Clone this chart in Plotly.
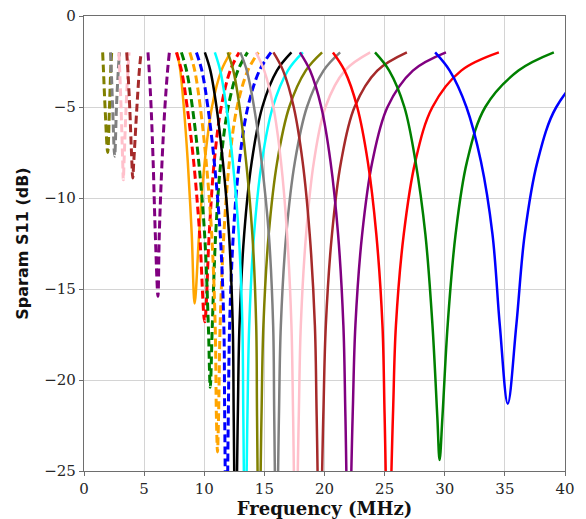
import plotly.graph_objects as go

LEVELS_DB = [-2, -3, -5, -8, -12, -17, -22]

# ---- dashed family (left frequencies, right frequencies, centre MHz, minimum dB)
OLIVE_D_L = [1.55, 1.62, 1.75]
OLIVE_D_R = [2.30, 2.22, 2.12]
OLIVE_D_MIN = [1.97, -7.5]

GREY_D_L = [2.20, 2.27, 2.38]
GREY_D_R = [2.95, 2.85, 2.70]
GREY_D_MIN = [2.55, -7.7]

PINK_D_L = [2.90, 2.97, 3.08, 3.22]
PINK_D_R = [3.75, 3.65, 3.50, 3.33]
PINK_D_MIN = [3.27, -9.0]

BROWN_D_L = [3.55, 3.65, 3.80, 3.98]
BROWN_D_R = [4.75, 4.60, 4.40, 4.14]
BROWN_D_MIN = [4.05, -8.9]

PURPLE_D_L = [5.32, 5.42, 5.58, 5.75, 5.93]
PURPLE_D_R = [7.10, 6.95, 6.73, 6.49, 6.26]
PURPLE_D_MIN = [6.15, -15.4]

RED_D_L = [7.68, 8.11, 8.58, 9.12, 9.62]
RED_D_R = [12.90, 12.16, 11.41, 10.83, 10.41]
RED_D_MIN = [10.04, -16.8]

GREEN_D_L = [8.10, 8.53, 9.01, 9.54, 10.03, 10.34]
GREEN_D_R = [13.60, 12.79, 11.99, 11.38, 10.95, 10.67]
GREEN_D_MIN = [10.5, -20.4]

ORANGE_D_L = [8.80, 9.21, 9.67, 10.16, 10.62, 10.91, 11.01]
ORANGE_D_R = [14.50, 13.62, 12.73, 12.09, 11.63, 11.32, 11.19]
ORANGE_D_MIN = [11.1, -23.95]

BLUE_D_L = [9.35, 9.80, 10.30, 10.83, 11.33, 11.63, 11.70]
BLUE_D_R = [15.55, 14.59, 13.63, 12.92, 12.42, 12.11, 12.00]
BLUE_D_MIN = [11.85, -30.0]

# ---- solid family
ORANGE_L = [7.75, 8.01, 8.30, 8.63, 8.96]
ORANGE_R = [12.20, 11.42, 10.64, 10.04, 9.57]
ORANGE_MIN = [9.2, -15.8]

BLACK_L = [10.05, 10.51, 11.02, 11.55, 12.06, 12.37, 12.45]
BLACK_R = [17.25, 16.04, 14.83, 13.95, 13.32, 12.93, 12.79]
BLACK_MIN = [12.6, -30.0]

CYAN_L = [10.88, 11.33, 11.84, 12.37, 12.87, 13.17, 13.25]
CYAN_R = [18.20, 16.95, 15.70, 14.79, 14.14, 13.74, 13.59]
CYAN_MIN = [13.4, -30.0]

OLIVE_L = [11.95, 12.42, 12.94, 13.48, 14.00, 14.32, 14.39]
OLIVE_R = [19.80, 18.44, 17.07, 16.07, 15.36, 14.92, 14.76]
OLIVE_MIN = [14.55, -30.0]

GREY_L = [13.00, 13.54, 14.14, 14.77, 15.37, 15.73, 15.82]
GREY_R = [21.30, 19.92, 18.54, 17.54, 16.82, 16.37, 16.21]
GREY_MIN = [16.0, -30.0]

PINK_L = [14.30, 14.99, 15.75, 16.38, 16.89, 17.25, 17.39]
PINK_R = [23.80, 21.69, 20.08, 19.12, 18.47, 18.03, 17.86]
PINK_MIN = [17.6, -30.0]

BROWN_L = [15.75, 16.56, 17.44, 18.18, 18.77, 19.20, 19.35]
BROWN_R = [26.85, 24.39, 22.50, 21.38, 20.62, 20.11, 19.90]
BROWN_MIN = [19.6, -30.0]

PURPLE_L = [17.95, 18.80, 19.73, 20.50, 21.13, 21.57, 21.74]
PURPLE_R = [30.10, 27.35, 25.24, 23.98, 23.13, 22.57, 22.34]
PURPLE_MIN = [22.0, -30.0]

RED_L = [20.70, 21.67, 22.72, 23.60, 24.31, 24.82, 25.00]
RED_R = [34.50, 31.37, 28.98, 27.55, 26.59, 25.94, 25.69]
RED_MIN = [25.3, -30.0]

GREEN_L = [24.20, 25.38, 26.64, 27.57, 28.39, 28.98, 29.38]
GREEN_R = [39.07, 36.13, 33.37, 31.85, 30.90, 30.24, 29.81]
GREEN_MIN = [29.57, -24.4]

BLUE_L = [29.20, 30.41, 31.80, 33.01, 33.97, 34.58]
BLUE_R = [45.34, 41.91, 39.28, 37.71, 36.65, 35.95]
BLUE_MIN = [35.24, -21.3]

X_TICKS = [0, 5, 10, 15, 20, 25, 30, 35, 40]
Y_TICKS = [-25, -20, -15, -10, -5, 0]

CURVES = [
    (OLIVE_D_L, OLIVE_D_R, OLIVE_D_MIN, "olive", True),
    (GREY_D_L, GREY_D_R, GREY_D_MIN, "grey", True),
    (PINK_D_L, PINK_D_R, PINK_D_MIN, "pink", True),
    (BROWN_D_L, BROWN_D_R, BROWN_D_MIN, "brown", True),
    (PURPLE_D_L, PURPLE_D_R, PURPLE_D_MIN, "purple", True),
    (ORANGE_L, ORANGE_R, ORANGE_MIN, "orange", False),
    (RED_D_L, RED_D_R, RED_D_MIN, "red", True),
    (GREEN_D_L, GREEN_D_R, GREEN_D_MIN, "green", True),
    (ORANGE_D_L, ORANGE_D_R, ORANGE_D_MIN, "orange", True),
    (BLUE_D_L, BLUE_D_R, BLUE_D_MIN, "blue", True),
    (BLACK_L, BLACK_R, BLACK_MIN, "black", False),
    (CYAN_L, CYAN_R, CYAN_MIN, "cyan", False),
    (OLIVE_L, OLIVE_R, OLIVE_MIN, "olive", False),
    (GREY_L, GREY_R, GREY_MIN, "grey", False),
    (PINK_L, PINK_R, PINK_MIN, "pink", False),
    (BROWN_L, BROWN_R, BROWN_MIN, "brown", False),
    (PURPLE_L, PURPLE_R, PURPLE_MIN, "purple", False),
    (RED_L, RED_R, RED_MIN, "red", False),
    (GREEN_L, GREEN_R, GREEN_MIN, "green", False),
    (BLUE_L, BLUE_R, BLUE_MIN, "blue", False),
]

fig = go.Figure()
for left, right, mn, color, dashed in CURVES:
    xs = list(left) + [mn[0]] + list(reversed(right))
    ys = LEVELS_DB[:len(left)] + [mn[1]] + list(reversed(LEVELS_DB[:len(right)]))
    fig.add_trace(go.Scatter(
        x=xs, y=ys, mode="lines",
        line=dict(color=color, width=3.0 if dashed else 2.5,
                  dash="8px,4px" if dashed else "solid",
                  shape="spline", smoothing=1.0),
        hoverinfo="skip", showlegend=False))

tick_font = dict(family="DejaVu Serif", size=15, color="#262626")
axis_common = dict(showgrid=True, gridcolor="#d4d4d4", gridwidth=1,
                   showline=True, linecolor="#6e6e6e", linewidth=1.2, mirror=True,
                   ticks="outside", ticklen=4, tickcolor="#6e6e6e", tickfont=tick_font,
                   zeroline=False, ticklabeloverflow="allow")

fig.update_xaxes(range=[0, 40], tickvals=X_TICKS, **axis_common,
                 title=dict(text="Frequency (MHz)", standoff=2,
                            font=dict(family="DejaVu Serif", size=18, color="#111111", weight="bold")))
fig.update_yaxes(range=[-25, 0], tickvals=Y_TICKS, **axis_common,
                 title=dict(text="Sparam S11 (dB)", standoff=11,
                            font=dict(family="DejaVu Sans", size=16, color="#111111", weight="bold")))

fig.update_layout(width=586, height=519,
                  margin=dict(l=84, r=21, t=16, b=48, autoexpand=False),
                  plot_bgcolor="white", paper_bgcolor="white", showlegend=False)

# remove the default page margin so the figure sits at the window's top-left corner
fig.write_html("out.html", config={"displayModeBar": False, "staticPlot": True},
               post_script="document.body.style.margin='0px';")
